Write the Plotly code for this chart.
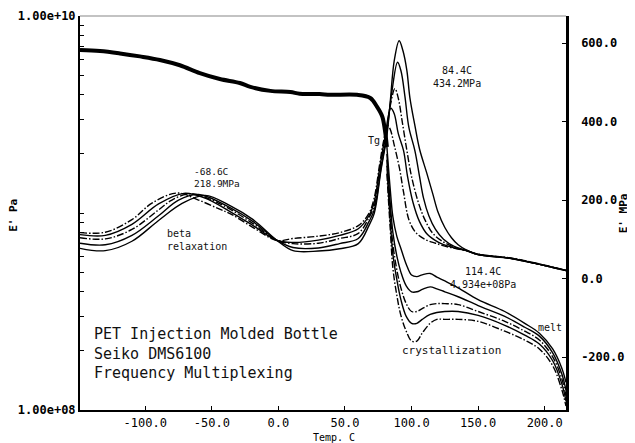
import plotly.graph_objects as go

# E' (storage modulus, log10 Pa) - glassy part, all frequencies overlap
t_glassy = [-149, -134, -119, -104, -89, -74, -59, -44, -29, -21, -6, 9, 16, 31, 39, 59, 69, 74, 78, 80, 81.5]
e1_glassy_log = [9.827, 9.822, 9.81, 9.795, 9.777, 9.75, 9.71, 9.68, 9.66, 9.64, 9.62, 9.614, 9.605,
                 9.604, 9.60, 9.60, 9.584, 9.54, 9.49, 9.42, 9.335]

# E' after Tg, one curve per frequency (log10 Pa)
t_rubbery = [81.5, 84, 86, 89, 92, 96, 100, 104, 108, 114, 119, 125, 135, 150, 170, 185, 196, 206, 213, 216]
e1_log_1 = [9.335, 9.12, 8.98, 8.88, 8.82, 8.74, 8.685, 8.677, 8.686, 8.693, 8.675, 8.655, 8.62, 8.56,
            8.50, 8.44, 8.39, 8.31, 8.21, 8.14]
e1_log_2 = [9.30, 9.05, 8.90, 8.78, 8.70, 8.63, 8.60, 8.60, 8.612, 8.625, 8.615, 8.60, 8.575, 8.53,
            8.475, 8.42, 8.375, 8.29, 8.18, 8.10]
e1_log_3 = [9.27, 9.00, 8.84, 8.71, 8.62, 8.54, 8.50, 8.50, 8.515, 8.535, 8.54, 8.54, 8.535, 8.50,
            8.45, 8.40, 8.355, 8.27, 8.155, 8.07]
e1_log_4 = [9.24, 8.96, 8.79, 8.66, 8.56, 8.475, 8.44, 8.44, 8.46, 8.485, 8.495, 8.50, 8.50, 8.48,
            8.43, 8.38, 8.335, 8.25, 8.13, 8.045]
e1_log_5 = [9.20, 8.92, 8.72, 8.58, 8.48, 8.40, 8.35, 8.35, 8.39, 8.44, 8.46, 8.46, 8.46, 8.45,
            8.40, 8.355, 8.31, 8.225, 8.10, 8.02]

# E'' (loss modulus, MPa), one curve per frequency
t_loss_1 = [-149, -130, -110, -90, -72, -55, -36, -19, -1, 11, 30, 46, 60, 68, 72, 77, 81.5, 84, 87,
            90.7, 93.5, 96.5, 98.75, 102.5, 106, 111.5, 116, 120, 125, 130, 135, 141, 150, 175, 200, 216]
e2_1 = [77, 71, 95, 148, 192, 212, 185, 150, 97, 71, 70, 76, 89, 135, 166, 275, 365, 450, 555,
        606, 581, 530, 461, 390, 330, 268, 215, 168, 130, 104, 86, 73, 61, 51, 33, 20]
t_loss_2 = [-149, -130, -110, -90, -75, -60, -36, -19, -1, 11, 30, 46, 60, 68, 72, 77, 81, 85, 89.5,
            92, 95, 98, 102.5, 106, 109, 113, 118, 124, 132, 141, 150, 175, 200, 216]
e2_2 = [90, 86, 110, 160, 200, 214, 180, 145, 97, 79, 78, 89, 102, 145, 175, 280, 360, 470, 551,
        530, 465, 385, 326, 260, 205, 160, 125, 100, 82, 72, 62, 51.5, 33.5, 21]
t_loss_3 = [-149, -130, -110, -90, -80, -66, -50, -36, -19, -1, 11, 30, 46, 60, 68, 72, 77, 81, 84,
            87.5, 90, 93, 96.5, 100, 105, 110, 116, 123, 132, 141, 150, 175, 200, 216]
e2_3 = [104, 101, 125, 175, 200, 216, 200, 176, 140, 97, 89, 90, 102, 115, 155, 185, 290, 370, 440,
        484, 460, 400, 326, 260, 195, 150, 115, 95, 80, 71, 62, 52, 34, 21]
t_loss_4 = [-149, -130, -110, -90, -71, -55, -36, -19, -1, 11, 30, 46, 60, 68, 72, 76, 80, 84.4, 87,
            90, 94, 97, 101, 106, 112, 120, 130, 141, 150, 175, 200, 216]
e2_4 = [112, 110, 138, 190, 217, 205, 170, 135, 97, 92, 98, 110, 127, 160, 195, 280, 360, 434, 420,
        370, 326, 260, 195, 145, 112, 93, 80, 71, 61, 51, 33, 20]
t_loss_5 = [-149, -130, -110, -95, -76, -60, -45, -36, -19, -1, 11, 30, 46, 60, 68, 72, 76, 79, 82,
            84, 87, 91, 94, 98, 103, 110, 118, 128, 141, 150, 175, 200, 216]
e2_5 = [117, 118, 150, 192, 218, 200, 178, 165, 130, 97, 102, 108, 117, 135, 166, 206, 290, 350, 390,
        380, 340, 280, 220, 150, 118, 100, 90, 80, 71, 61, 51, 33, 20]

x_ticks = [-100, -50, 0, 50, 100, 150, 200]
x_ticktext = ['-100.0', '-50.0', '0.0', '50.0', '100.0', '150.0', '200.0']
y2_ticks = [-200, 0, 200, 400, 600]
y2_ticktext = ['-200.0', '0.0', '200.0', '400.0', '600.0']
y_minor = [2e8, 3e8, 4e8, 5e8, 6e8, 7e8, 8e8, 9e8, 1e9, 2e9, 3e9, 4e9, 5e9, 6e9, 7e9, 8e9, 9e9]

MONO = 'DejaVu Sans Mono'
DASHDOT = '7px,2px,1.5px,2px'
styles = ['solid', 'solid', DASHDOT, 'solid', DASHDOT]

fig = go.Figure()

fig.add_trace(go.Scatter(x=t_glassy, y=[10 ** v for v in e1_glassy_log], mode='lines',
                         line=dict(color='black', width=4, shape='spline'), yaxis='y'))
for vals, dash in zip([e1_log_1, e1_log_2, e1_log_3, e1_log_4, e1_log_5], styles):
    fig.add_trace(go.Scatter(x=t_rubbery, y=[10 ** v for v in vals], mode='lines',
                             line=dict(color='black', width=1.4, dash=dash, shape='spline'), yaxis='y'))

loss = [(t_loss_1, e2_1), (t_loss_2, e2_2), (t_loss_3, e2_3), (t_loss_4, e2_4), (t_loss_5, e2_5)]
for (t, vals), dash in zip(loss, styles):
    fig.add_trace(go.Scatter(x=t, y=vals, mode='lines',
                             line=dict(color='black', width=1.4, dash=dash, shape='spline'), yaxis='y2'))


def label(text, x, y, size=10, anchor='left'):
    fig.add_annotation(text=text, x=x, y=y, xref='x', yref='y2', showarrow=False,
                       xanchor=anchor, yanchor='middle', align=anchor,
                       font=dict(family=MONO, size=size, color='#111'))


label('-68.6C<br>218.9MPa', -64.75, 257, size=9.5)
label('84.4C<br>434.2MPa', 134, 513, anchor='center')
label('Tg', 71.75, 352, anchor='center')
label('114.4C<br>4.934e+08Pa', 154, 1, anchor='center')
label('melt', 203.75, -125, anchor='center')
label('crystallization', 130.25, -184, size=11, anchor='center')
label('beta<br>relaxation', -85, 99)
label('PET Injection Molded Bottle<br>Seiko DMS6100<br>Frequency Multiplexing', -139.75, -191, size=15)

# axis titles
fig.add_annotation(text="E' Pa", x=-0.136, y=0.495, xref='paper', yref='paper', showarrow=False,
                   xanchor='center', yanchor='middle', textangle=-90,
                   font=dict(family=MONO, size=11, color='black', weight='bold'))
fig.add_annotation(text="E' MPa", x=1.118, y=0.5, xref='paper', yref='paper', showarrow=False,
                   xanchor='center', yanchor='middle', textangle=-90,
                   font=dict(family=MONO, size=11, color='black', weight='bold'))
fig.add_annotation(text='Temp. C', x=0.522, y=-0.069, xref='paper', yref='paper', showarrow=False,
                   xanchor='center', yanchor='middle', font=dict(family=MONO, size=10, color='black'))

fig.add_shape(type='line', xref='paper', yref='paper', x0=0, x1=1, y0=1, y1=1,
              line=dict(color='#888', width=1.2))

# page body keeps an 8px margin, so the figure is drawn 8px smaller and shifted back
fig.update_layout(
    width=627, height=435,
    margin=dict(l=72, r=69, t=8, b=33, autoexpand=False),
    plot_bgcolor='white', paper_bgcolor='white',
    showlegend=False,
    xaxis=dict(range=[-149, 216], tickvals=x_ticks, ticktext=x_ticktext, ticks='inside', ticklen=4,
               tickcolor='black', showline=True, linecolor='black', linewidth=1.5, showgrid=False,
               zeroline=False, automargin=False, tickfont=dict(family=MONO, size=12, color='black'),
               ticklabelstandoff=1),
    yaxis=dict(type='log', range=[8, 10], tickvals=[1e8] + y_minor + [1e10],
               ticktext=['1.00e+08'] + [''] * len(y_minor) + ['1.00e+10'],
               ticks='inside', ticklen=4, tickcolor='black', showline=True, linecolor='black', linewidth=2,
               showgrid=False, zeroline=False, automargin=False,
               tickfont=dict(family=MONO, size=12, color='black', weight='bold')),
    yaxis2=dict(overlaying='y', side='right', anchor='x', range=[-335, 669], tickvals=y2_ticks,
                ticktext=y2_ticktext, ticks='inside', ticklen=4, tickcolor='black', showline=True,
                linecolor='black', linewidth=2.5, showgrid=False, zeroline=False, automargin=False,
                tickfont=dict(family=MONO, size=12, color='black', weight='bold'), ticklabelstandoff=10),
)

fig.write_html("out.html")
